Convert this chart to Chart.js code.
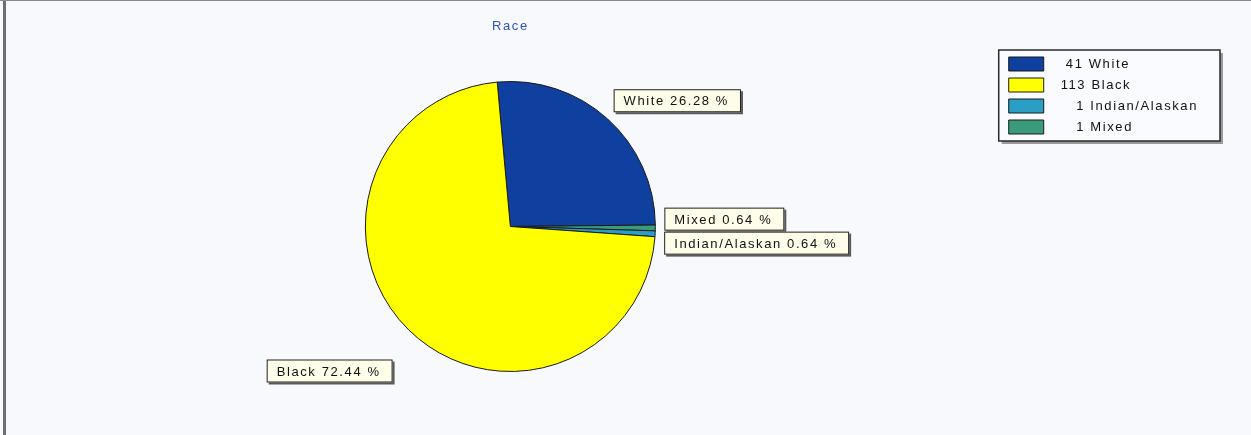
<!DOCTYPE html>
<html>
<head>
<meta charset="utf-8">
<script src="https://cdn.jsdelivr.net/npm/chart.js@4"></script>
<style>
  html, body { margin: 0; padding: 0; background: #f7f9fd; overflow: hidden; }
  canvas { display: block; }
</style>
</head>
<body>
<canvas id="c" width="1251" height="435"></canvas>
<script>
// ---- data ----
const chartTitle = 'Race';
const categories = ['White', 'Black', 'Indian/Alaskan', 'Mixed'];
const counts = [41, 113, 1, 1];
const percents = [26.28, 72.44, 0.64, 0.64];
// clockwise drawing order of the slices (indices into categories)
const drawOrder = [0, 3, 2, 1];

// ---- styles ----
const sliceColors = ['#0f3f9f', '#ffff00', '#2a9ec4', '#3a9a7c'];
const FONT = '"Liberation Sans", Arial, sans-serif';
const SPACING = '1.6px';
Chart.defaults.font.family = FONT;

const spacingPlugin = {
  id: 'spacing',
  beforeLayout(chart) { chart.ctx.letterSpacing = SPACING; },
  beforeDraw(chart) {
    const ctx = chart.ctx;
    ctx.letterSpacing = SPACING;
    ctx.save();
    ctx.fillStyle = '#f7f9fd';
    ctx.fillRect(0, 0, chart.width, chart.height);
    ctx.fillStyle = '#6f6f6f';
    ctx.fillRect(3, 0, 3, chart.height);
    ctx.fillStyle = '#8a8a8a';
    ctx.fillRect(0, 0, chart.width, 1);
    // legend frame
    const hb = chart.legend && chart.legend.legendHitBoxes;
    if (hb && hb.length) {
      const l = Math.min(...hb.map(b => b.left)) - 10;
      const r = Math.max(...hb.map(b => b.left + b.width)) + 22;
      const t = hb[0].top - 7;
      const last = hb[hb.length - 1];
      const b = last.top + last.height + 7;
      ctx.fillStyle = '#9a9a9a';
      ctx.fillRect(l + 3, t + 3, r - l, b - t);
      ctx.fillStyle = '#f9fbfe';
      ctx.fillRect(l, t, r - l, b - t);
      ctx.strokeStyle = '#2a2a2a';
      ctx.lineWidth = 1.5;
      ctx.strokeRect(l, t, r - l, b - t);
    }
    ctx.restore();
  }
};

const calloutPlugin = {
  id: 'callouts',
  afterDatasetsDraw(chart) {
    const ctx = chart.ctx;
    const meta = chart.getDatasetMeta(0);
    ctx.save();
    ctx.font = '13px ' + FONT;
    ctx.letterSpacing = SPACING;
    const h = 23;
    const boxes = [];
    meta.data.forEach((arc, i) => {
      const p = arc.getProps(['x', 'y', 'startAngle', 'endAngle', 'outerRadius'], true);
      const mid = (p.startAngle + p.endAngle) / 2;
      const cos = Math.cos(mid), sin = Math.sin(mid);
      const rr = p.outerRadius + 9;
      const ax = p.x + cos * rr, ay = p.y + sin * rr;
      const idx = drawOrder[i];
      const text = categories[idx] + ' ' + percents[idx].toFixed(2) + ' %';
      const w = ctx.measureText(text).width + 22;
      let x = cos >= 0 ? ax : ax - w;
      let y;
      if (Math.abs(sin) < 0.25) { y = ay - h / 2; }
      else if (sin < 0) { y = ay - h; }
      else { y = ay + h; if (cos < 0) x -= 10; }
      boxes.push({ x, y, w, text, right: cos >= 0 });
    });
    // push apart overlapping callouts on the same side
    [true, false].forEach(side => {
      const list = boxes.filter(b => b.right === side).sort((a, b) => a.y - b.y);
      for (let k = 1; k < list.length; k++) {
        const a = list[k - 1], b = list[k];
        const o = a.y + h + 1 - b.y;
        if (o > 0) { a.y -= o / 2; b.y += o / 2; }
      }
    });
    boxes.forEach(b => {
      ctx.fillStyle = '#5a5a5a';
      ctx.fillRect(b.x + 2, b.y + 2, b.w, h);
      ctx.fillStyle = '#fdfdea';
      ctx.fillRect(b.x, b.y, b.w, h);
      ctx.strokeStyle = '#222';
      ctx.lineWidth = 1;
      ctx.strokeRect(b.x + 0.5, b.y + 0.5, b.w - 1, h - 1);
      ctx.fillStyle = '#111';
      ctx.textBaseline = 'middle';
      ctx.textAlign = 'left';
      ctx.fillText(b.text, b.x + 10, b.y + h / 2 + 1);
    });
    ctx.restore();
  }
};

function padFor(n) {
  const len = String(n).length;
  return ' '.repeat(2 + Math.round((3 - len) * 1.4));
}

new Chart(document.getElementById('c'), {
  type: 'pie',
  data: {
    labels: drawOrder.map(i => categories[i]),
    datasets: [{
      data: drawOrder.map(i => counts[i]),
      backgroundColor: drawOrder.map(i => sliceColors[i]),
      borderColor: '#1a1a1a',
      borderWidth: 1
    }]
  },
  options: {
    responsive: false,
    animation: false,
    rotation: -5.2,
    layout: { padding: { left: 19, right: 43, top: 0, bottom: 63 } },
    plugins: {
      tooltip: { enabled: false },
      title: {
        display: true,
        text: chartTitle,
        fullSize: false,
        color: '#2b52c4',
        font: { size: 13, weight: 'normal', family: FONT },
        padding: { top: 19, bottom: 46.4 }
      },
      legend: {
        position: 'right',
        align: 'start',
        title: { display: true, text: '', font: { size: 12 }, padding: { top: 35.6, bottom: 0 } },
        labels: {
          boxWidth: 35,
          boxHeight: 14,
          padding: 7,
          color: '#111',
          font: { size: 13, family: FONT },
          generateLabels(chart) {
            return categories.map((c, idx) => ({
              text: padFor(counts[idx]) + counts[idx] + ' ' + c,
              fillStyle: sliceColors[idx],
              strokeStyle: '#1a1a1a',
              lineWidth: 1,
              fontColor: '#111',
              hidden: false,
              index: drawOrder.indexOf(idx)
            }));
          }
        }
      }
    }
  },
  plugins: [spacingPlugin, calloutPlugin]
});
</script>
</body>
</html>
